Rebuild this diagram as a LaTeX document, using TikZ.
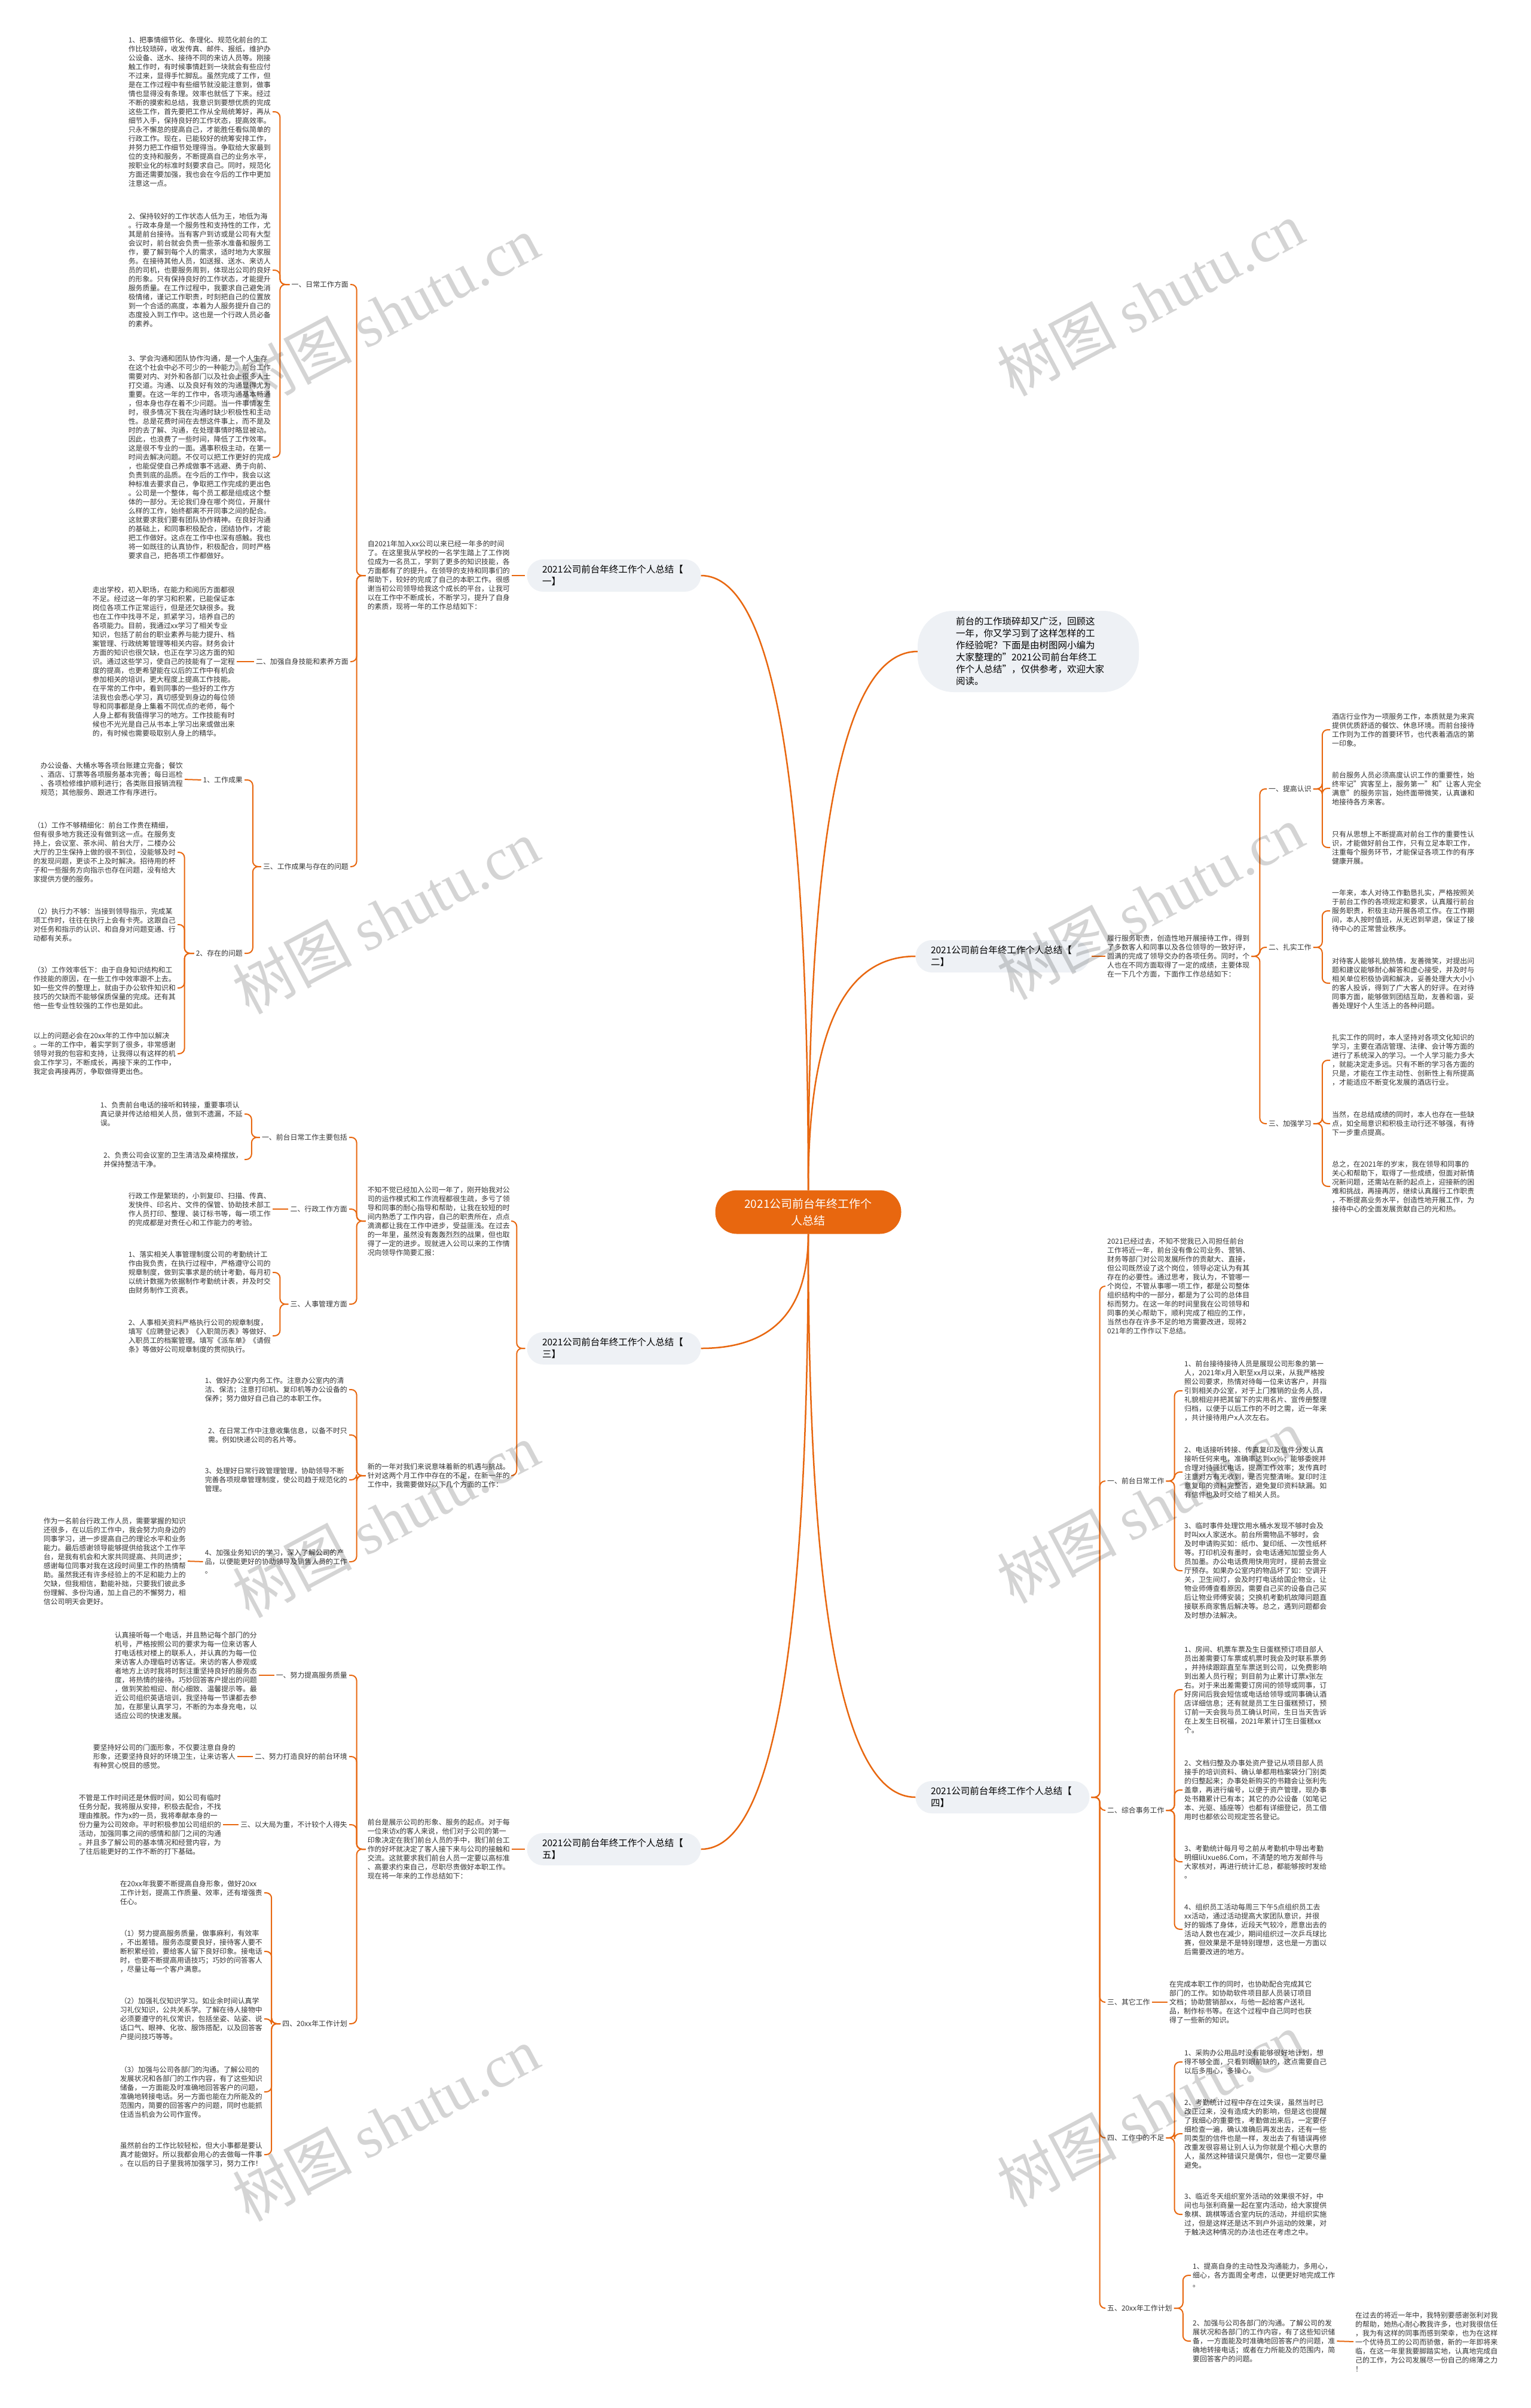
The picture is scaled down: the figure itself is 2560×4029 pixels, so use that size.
\documentclass[tikz,border=0pt]{standalone}
\usepackage{fontspec}
\setmainfont{Noto Sans CJK SC}
\newfontfamily\wmfont{Liberation Serif}
\definecolor{mmorange}{HTML}{E8670F}
\definecolor{pill}{HTML}{EEF1F5}
\definecolor{ink}{HTML}{333333}

\begin{document}
\begin{tikzpicture}[x=1pt, y=-1pt,
    link/.style={draw=mmorange, line width=2pt, rounded corners=9pt, shorten <=3pt, shorten >=3pt},
    curve/.style={draw=mmorange, line width=2.5pt},
    para/.style={align=left, inner sep=0pt, text=ink, font=\fontsize{11.9}{15}\selectfont},
    branch/.style={fill=pill, rounded corners=27pt, minimum width=291pt, minimum height=54pt,
        text width=240pt, inner sep=0pt, align=left, text=black, font=\fontsize{15.5}{20}\selectfont},
    bubble/.style={fill=pill, rounded corners=60pt, minimum width=370pt, minimum height=136pt,
        text width=242pt, inner sep=0pt, align=left, text=black, font=\fontsize{15.5}{20}\selectfont},
    root/.style={fill=mmorange, rounded corners=36pt, minimum width=311pt, minimum height=73pt,
        inner sep=0pt, align=center, text=white, font=\fontsize{19}{28}\selectfont},
    wm/.style={text=black, text opacity=0.17, rotate=28, inner sep=0pt, font=\fontsize{100}{100}\selectfont}]
    \useasboundingbox (0,0) rectangle (2560,4029);
    \fill[white] (0,0) rectangle (2560,4029);

    % 1. Root and the six branches
    \node[root] (c) at (1352,2028) {2021公司前台年终工作个\\人总结};
    \node[bubble] (ib) at (1720,1090) {前台的工作琐碎却又广泛，回顾这\\一年，你又学习到了这样怎样的工\\作经验呢？下面是由树图网小编为\\大家整理的"2021公司前台年终工\\作个人总结"，仅供参考，欢迎大家\\阅读。};
    \node[branch] (n1) at (1027,963) {2021公司前台年终工作个人总结【\\一】};
    \node[branch] (n2) at (1677,1600) {2021公司前台年终工作个人总结【\\二】};
    \node[branch] (n3) at (1027,2256) {2021公司前台年终工作个人总结【\\三】};
    \node[branch] (n4) at (1677,3007) {2021公司前台年终工作个人总结【\\四】};
    \node[branch] (n5) at (1027,3094) {2021公司前台年终工作个人总结【\\五】};
    \draw[curve] (c.north) .. controls +(0,-604) and +(-123,0) .. (ib.west);
    \draw[curve] (c.north) .. controls +(0,-689) and +(120,0) .. (n1.east);
    \draw[curve] (c.north) .. controls +(0,-263) and +(-121,0) .. (n2.west);
    \draw[curve] (c.south) .. controls +(0,128) and +(120,0) .. (n3.east);
    \draw[curve] (c.south) .. controls +(0,631) and +(-121,0) .. (n4.west);
    \draw[curve] (c.south) .. controls +(0,689) and +(120,0) .. (n5.east);

    % 2. Branch one
    \node[para, anchor=east] (t1) at (853,963) {自2021年加入xx公司以来已经一年多的时间\\了。在这里我从学校的一名学生踏上了工作岗\\位成为一名员工，学到了更多的知识技能，各\\方面都有了的提升。在领导的支持和同事们的\\帮助下，较好的完成了自己的本职工作。很感\\谢当初公司领导给我这个成长的平台，让我可\\以在工作中不断成长，不断学习，提升了自身\\的素质，现将一年的工作总结如下：};
    \node[para, anchor=east] (l11) at (583,476) {一、日常工作方面};
    \node[para, anchor=east] (l12) at (583,1107) {二、加强自身技能和素养方面};
    \node[para, anchor=east] (l13) at (583,1450) {三、工作成果与存在的问题};
    \node[para, anchor=east] (p111) at (453,187) {1、把事情细节化、条理化、规范化前台的工\\作比较琐碎，收发传真、邮件、报纸，维护办\\公设备、送水、接待不同的来访人员等。刚接\\触工作时，有时候事情赶到一块就会有些应付\\不过来，显得手忙脚乱。虽然完成了工作，但\\是在工作过程中有些细节就没能注意到，做事\\情也显得没有条理。效率也就低了下来。经过\\不断的摸索和总结，我意识到要想优质的完成\\这些工作，首先要把工作从全局统筹好，再从\\细节入手，保持良好的工作状态，提高效率。\\只永不懈怠的提高自己，才能胜任看似简单的\\行政工作。现在，已能较好的统筹安排工作，\\并努力把工作细节处理得当。争取给大家最到\\位的支持和服务，不断提高自己的业务水平，\\按职业化的标准时刻要求自己。同时，规范化\\方面还需要加强，我也会在今后的工作中更加\\注意这一点。};
    \node[para, anchor=east] (p112) at (453,452) {2、保持较好的工作状态人低为王，地低为海\\。行政本身是一个服务性和支持性的工作，尤\\其是前台接待。当有客户到访或是公司有大型\\会议时，前台就会负责一些茶水准备和服务工\\作，要了解到每个人的需求，适时地为大家服\\务。在接待其他人员，如送报、送水、来访人\\员的司机，也要服务周到，体现出公司的良好\\的形象。只有保持良好的工作状态，才能提升\\服务质量。在工作过程中，我要求自己避免消\\极情绪，谨记工作职责，时刻把自己的位置放\\到一个合适的高度，本着为人服务提升自己的\\态度投入到工作中。这也是一个行政人员必备\\的素养。};
    \node[para, anchor=east] (p113) at (453,765) {3、学会沟通和团队协作沟通，是一个人生存\\在这个社会中必不可少的一种能力。前台工作\\需要对内、对外和各部门以及社会上很多人士\\打交道。沟通、以及良好有效的沟通显得尤为\\重要。在这一年的工作中，各项沟通基本畅通\\，但本身也存在着不少问题。当一件事情发生\\时，很多情况下我在沟通时缺少积极性和主动\\性。总是花费时间在去想这件事上，而不是及\\时的去了解、沟通，在处理事情时略显被动。\\因此，也浪费了一些时间，降低了工作效率。\\这是很不专业的一面。遇事积极主动，在第一\\时间去解决问题。不仅可以把工作更好的完成\\，也能促使自己养成做事不逃避、勇于向前、\\负责到底的品质。在今后的工作中，我会以这\\种标准去要求自己，争取把工作完成的更出色\\。公司是一个整体，每个员工都是组成这个整\\体的一部分。无论我们身在哪个岗位，开展什\\么样的工作，始终都离不开同事之间的配合。\\这就要求我们要有团队协作精神。在良好沟通\\的基础上，和同事积极配合，团结协作，才能\\把工作做好。这点在工作中也深有感触。我也\\将一如既往的认真协作，积极配合，同时严格\\要求自己，把各项工作都做好。};
    \node[para, anchor=east] (p121) at (393,1107) {走出学校，初入职场，在能力和阅历方面都很\\不足。经过这一年的学习和积累，已能保证本\\岗位各项工作正常运行，但是还欠缺很多。我\\也在工作中找寻不足，抓紧学习，培养自己的\\各项能力。目前，我通过xx学习了相关专业\\知识，包括了前台的职业素养与能力提升、档\\案管理、行政统筹管理等相关内容。财务会计\\方面的知识也很欠缺，也正在学习这方面的知\\识。通过这些学习，使自己的技能有了一定程\\度的提高，也更希望能在以后的工作中有机会\\参加相关的培训，更大程度上提高工作技能。\\在平常的工作中，看到同事的一些好的工作方\\法我也会悉心学习，真切感受到身边的每位领\\导和同事都是身上集着不同优点的老师，每个\\人身上都有我值得学习的地方。工作技能有时\\候也不光光是自己从书本上学习出来或做出来\\的，有时候也需要吸取别人身上的精华。};
    \node[para, anchor=east] (l131) at (406,1305) {1、工作成果};
    \node[para, anchor=east] (l132) at (406,1595) {2、存在的问题};
    \node[para, anchor=east] (p131) at (306,1304) {办公设备、大桶水等各项台账建立完备；餐饮\\、酒店、订票等各项服务基本完善；每日巡检\\、各项检修维护顺利进行；各类账目报销流程\\规范；其他服务、跟进工作有序进行。};
    \node[para, anchor=east] (p1321) at (294,1426) {（1）工作不够精细化：前台工作贵在精细，\\但有很多地方我还没有做到这一点。在服务支\\持上，会议室、茶水间、前台大厅，二楼办公\\大厅的卫生保持上做的很不到位，没能够及时\\的发现问题，更谈不上及时解决。招待用的杯\\子和一些服务方向指示也存在问题，没有给大\\家提供方便的服务。};
    \node[para, anchor=east] (p1322) at (294,1547) {（2）执行力不够：当接到领导指示，完成某\\项工作时，往往在执行上会有卡壳。这跟自己\\对任务和指示的认识、和自身对问题变通、行\\动都有关系。};
    \node[para, anchor=east] (p1323) at (294,1653) {（3）工作效率低下：由于自身知识结构和工\\作技能的原因，在一些工作中效率跟不上去。\\如一些文件的整理上，就由于办公软件知识和\\技巧的欠缺而不能够保质保量的完成。还有其\\他一些专业性较强的工作也是如此。};
    \node[para, anchor=east] (p1324) at (294,1763) {以上的问题必会在20xx年的工作中加以解决\\。一年的工作中，着实学到了很多，非常感谢\\领导对我的包容和支持，让我得以有这样的机\\会工作学习，不断成长，再接下来的工作中，\\我定会再接再厉，争取做得更出色。};
    \draw[link] (n1.west) -- (t1.east);
    \foreach \k in {l11,l12,l13} \draw[link] (t1.west) -- ++(-18,0) |- (\k.east);
    \foreach \k in {p111,p112,p113} \draw[link] (l11.west) -- ++(-19,0) |- (\k.east);
    \draw[link] (l12.west) -- (p121.east);
    \foreach \k in {l131,l132} \draw[link] (l13.west) -- ++(-17,0) |- (\k.east);
    \draw[link] (l131.west) -- (p131.east);
    \foreach \k in {p1321,p1322,p1323,p1324} \draw[link] (l132.west) -- ++(-19,0) |- (\k.east);

    % 3. Branch three
    \node[para, anchor=east] (t31) at (853,2043) {不知不觉已经加入公司一年了，刚开始我对公\\司的运作模式和工作流程都很生疏，多亏了领\\导和同事的耐心指导和帮助，让我在较短的时\\间内熟悉了工作内容，自己的职责所在，点点\\滴滴都让我在工作中进步，受益匪浅。在过去\\的一年里，虽然没有轰轰烈烈的战果，但也取\\得了一定的进步。现就进入公司以来的工作情\\况向领导作简要汇报：};
    \node[para, anchor=east] (t32) at (853,2469) {新的一年对我们来说意味着新的机遇与挑战。\\针对这两个月工作中存在的不足，在新一年的\\工作中，我需要做好以下几个方面的工作：};
    \node[para, anchor=east] (l31) at (581,1903) {一、前台日常工作主要包括};
    \node[para, anchor=east] (l32) at (581,2023) {二、行政工作方面};
    \node[para, anchor=east] (l33) at (581,2182) {三、人事管理方面};
    \node[para, anchor=east] (p311) at (406,1864) {1、负责前台电话的接听和转接，重要事项认\\真记录并传达给相关人员，做到不遗漏，不延\\误。};
    \node[para, anchor=east] (p312) at (406,1940) {2、负责公司会议室的卫生清洁及桌椅摆放，\\并保持整洁干净。};
    \node[para, anchor=east] (p32) at (453,2023) {行政工作是繁琐的，小到复印、扫描、传真、\\发快件、印名片、文件的保管、协助技术部工\\作人员打印、整理、装订标书等，每一项工作\\的完成都是对责任心和工作能力的考验。};
    \node[para, anchor=east] (p331) at (453,2129) {1、落实相关人事管理制度公司的考勤统计工\\作由我负责，在执行过程中，严格遵守公司的\\规章制度，做到实事求是的统计考勤，每月初\\以统计数据为依据制作考勤统计表，并及时交\\由财务制作工资表。};
    \node[para, anchor=east] (p332) at (453,2235) {2、人事相关资料严格执行公司的规章制度，\\填写《应聘登记表》《入职简历表》等做好、\\入职员工的档案管理。填写《派车单》《请假\\条》等做好公司规章制度的贯彻执行。};
    \node[para, anchor=east] (q1) at (581,2325) {1、做好办公室内务工作。注意办公室内的清\\洁、保洁；注意打印机、复印机等办公设备的\\保养；努力做好自己自己的本职工作。};
    \node[para, anchor=east] (q2) at (581,2401) {2、在日常工作中注意收集信息，以备不时只\\需。例如快递公司的名片等。};
    \node[para, anchor=east] (q3) at (581,2476) {3、处理好日常行政管理管理，协助领导不断\\完善各项规章管理制度，使公司趋于规范化的\\管理。};
    \node[para, anchor=east] (q4) at (581,2613) {4、加强业务知识的学习，深入了解公司的产\\品，以便能更好的协助领导及销售人员的工作\\。};
    \node[para, anchor=east] (q41) at (311,2612) {作为一名前台行政工作人员，需要掌握的知识\\还很多，在以后的工作中，我会努力向身边的\\同事学习，进一步提高自己的理论水平和业务\\能力。最后感谢领导能够提供给我这个工作平\\台，是我有机会和大家共同提高、共同进步；\\感谢每位同事对我在这段时间里工作的热情帮\\助。虽然我还有许多经验上的不足和能力上的\\欠缺，但我相信，勤能补拙，只要我们彼此多\\份理解、多份沟通，加上自己的不懈努力，相\\信公司明天会更好。};
    \foreach \k in {t31,t32} \draw[link] (n3.west) -- ++(-17,0) |- (\k.east);
    \foreach \k in {l31,l32,l33} \draw[link] (t31.west) -- ++(-18,0) |- (\k.east);
    \foreach \k in {p311,p312} \draw[link] (l31.west) -- ++(-17,0) |- (\k.east);
    \draw[link] (l32.west) -- (p32.east);
    \foreach \k in {p331,p332} \draw[link] (l33.west) -- ++(-17,0) |- (\k.east);
    \foreach \k in {q1,q2,q3,q4} \draw[link] (t32.west) -- ++(-18,0) |- (\k.east);
    \draw[link] (q4.west) -- (q41.east);

    % 4. Branch five
    \node[para, anchor=east] (t5) at (853,3094) {前台是展示公司的形象、服务的起点。对于每\\一位来访x的客人来说，他们对于公司的第一\\印象决定在我们前台人员的手中，我们前台工\\作的好坏就决定了客人接下来与公司的接触和\\交流。这就要求我们前台人员一定要以高标准\\、高要求约束自己，尽职尽责做好本职工作。\\现在将一年来的工作总结如下：};
    \node[para, anchor=east] (l51) at (581,2803) {一、努力提高服务质量};
    \node[para, anchor=east] (l52) at (581,2939) {二、努力打造良好的前台环境};
    \node[para, anchor=east] (l53) at (581,3053) {三、以大局为重，不计较个人得失};
    \node[para, anchor=east] (l54) at (581,3386) {四、20xx年工作计划};
    \node[para, anchor=east] (p51) at (430,2803) {认真接听每一个电话，并且熟记每个部门的分\\机号，严格按照公司的要求为每一位来访客人\\打电话核对楼上的联系人，并认真的为每一位\\来访客人办理临时访客证。来访的客人参观或\\者地方上访时我将时刻注重坚持良好的服务态\\度，将热情的接待。巧妙回答客户提出的问题\\，做到笑脸相迎、耐心细致、温馨提示等。最\\近公司组织英语培训，我坚持每一节课都去参\\加，在那里认真学习，不断的为本身充电，以\\适应公司的快速发展。};
    \node[para, anchor=east] (p52) at (394,2939) {要坚持好公司的门面形象，不仅要注意自身的\\形象，还要坚持良好的环境卫生，让来访客人\\有种赏心悦目的感觉。};
    \node[para, anchor=east] (p53) at (370,3053) {不管是工作时间还是休假时间，如公司有临时\\任务分配，我将服从安排，积极去配合，不找\\理由推脱。作为x的一员，我将奉献本身的一\\份力量为公司效命。平时积极参加公司组织的\\活动，加强同事之间的感情和部门之间的沟通\\。并且多了解公司的基本情况和经营内容，为\\了往后能更好的工作不断的打下基础。};
    \node[para, anchor=east] (p541) at (439,3167) {在20xx年我要不断提高自身形象，做好20xx\\工作计划，提高工作质量、效率，还有增强责\\任心。};
    \node[para, anchor=east] (p542) at (439,3265) {（1）努力提高服务质量，做事麻利，有效率\\，不出差错。服务态度要良好，接待客人要不\\断积累经验，要给客人留下良好印象。接电话\\时，也要不断提高用语技巧；巧妙的问答客人\\，尽量让每一个客户满意。};
    \node[para, anchor=east] (p543) at (439,3378) {（2）加强礼仪知识学习。如业余时间认真学\\习礼仪知识，公共关系学。了解在待人接物中\\必须要遵守的礼仪常识，包括坐姿、站姿、说\\话口气、眼神、化妆、服饰搭配，以及回答客\\户提问技巧等等。};
    \node[para, anchor=east] (p544) at (439,3500) {（3）加强与公司各部门的沟通。了解公司的\\发展状况和各部门的工作内容，有了这些知识\\储备，一方面能及时准确地回答客户的问题，\\准确地转接电话。另一方面也能在力所能及的\\范围内，简要的回答客户的问题，同时也能抓\\住适当机会为公司作宣传。};
    \node[para, anchor=east] (p545) at (439,3605) {虽然前台的工作比较轻松，但大小事都是要认\\真才能做好。所以我都会用心的去做每一件事\\。在以后的日子里我将加强学习，努力工作！};
    \draw[link] (n5.west) -- (t5.east);
    \foreach \k in {l51,l52,l53,l54} \draw[link] (t5.west) -- ++(-18,0) |- (\k.east);
    \draw[link] (l51.west) -- (p51.east);
    \draw[link] (l52.west) -- (p52.east);
    \draw[link] (l53.west) -- (p53.east);
    \foreach \k in {p541,p542,p543,p544,p545} \draw[link] (l54.west) -- ++(-18,0) |- (\k.east);

    % 5. Branch two
    \node[para, anchor=west] (t2) at (1852,1600) {履行服务职责，创造性地开展接待工作，得到\\了多数客人和同事以及各位领导的一致好评，\\圆满的完成了领导交办的各项任务。同时，个\\人也在不同方面取得了一定的成绩，主要体现\\在一下几个方面，下面作工作总结如下：};
    \node[para, anchor=west] (r1) at (2122,1320) {一、提高认识};
    \node[para, anchor=west] (r2) at (2122,1585) {二、扎实工作};
    \node[para, anchor=west] (r3) at (2122,1880) {三、加强学习};
    \node[para, anchor=west] (a1) at (2228,1221) {酒店行业作为一项服务工作，本质就是为来宾\\提供优质舒适的餐饮、休息环境。而前台接待\\工作则为工作的首要环节，也代表着酒店的第\\一印象。};
    \node[para, anchor=west] (a2) at (2228,1319) {前台服务人员必须高度认识工作的重要性，始\\终牢记"宾客至上，服务第一"和"让客人完全\\满意"的服务宗旨，始终面带微笑，认真谦和\\地接待各方来客。};
    \node[para, anchor=west] (a3) at (2228,1418) {只有从思想上不断提高对前台工作的重要性认\\识，才能做好前台工作，只有立足本职工作，\\注重每个服务环节，才能保证各项工作的有序\\健康开展。};
    \node[para, anchor=west] (b1) at (2228,1524) {一年来，本人对待工作勤恳扎实，严格按照关\\于前台工作的各项规定和要求，认真履行前台\\服务职责，积极主动开展各项工作。在工作期\\间，本人按时值班，从无迟到早退，保证了接\\待中心的正常营业秩序。};
    \node[para, anchor=west] (b2) at (2228,1645) {对待客人能够礼貌热情，友善微笑，对提出问\\题和建议能够耐心解答和虚心接受，并及时与\\相关单位积极协调和解决，妥善处理大大小小\\的客人投诉，得到了广大客人的好评。在对待\\同事方面，能够做到团结互助，友善和谐，妥\\善处理好个人生活上的各种问题。};
    \node[para, anchor=west] (c1) at (2228,1774) {扎实工作的同时，本人坚持对各项文化知识的\\学习，主要在酒店管理、法律、会计等方面的\\进行了系统深入的学习。一个人学习能力多大\\，就能决定走多远。只有不断的学习各方面的\\只是，才能在工作主动性、创新性上有所提高\\，才能适应不断变化发展的酒店行业。};
    \node[para, anchor=west] (c2) at (2228,1880) {当然，在总结成绩的同时，本人也存在一些缺\\点，如全局意识和积极主动行还不够强，有待\\下一步重点提高。};
    \node[para, anchor=west] (c3) at (2228,1985) {总之，在2021年的岁末，我在领导和同事的\\关心和帮助下，取得了一些成绩，但面对新情\\况新问题，还需站在新的起点上，迎接新的困\\难和挑战，再接再厉，继续认真履行工作职责\\，不断提高业务水平，创造性地开展工作，为\\接待中心的全面发展贡献自己的光和热。};
    \draw[link] (n2.east) -- (t2.west);
    \foreach \k in {r1,r2,r3} \draw[link] (t2.east) -- ++(17,0) |- (\k.west);
    \foreach \k in {a1,a2,a3} \draw[link] (r1.east) -- ++(18,0) |- (\k.west);
    \foreach \k in {b1,b2} \draw[link] (r2.east) -- ++(18,0) |- (\k.west);
    \foreach \k in {c1,c2,c3} \draw[link] (r3.east) -- ++(18,0) |- (\k.west);

    % 6. Branch four
    \node[para, anchor=west] (t4) at (1852,2152) {2021已经过去，不知不觉我已入司担任前台\\工作将近一年，前台没有像公司业务、营销、\\财务等部门对公司发展所作的贡献大、直接，\\但公司既然设了这个岗位，领导必定认为有其\\存在的必要性。通过思考，我认为，不管哪一\\个岗位，不管从事哪一项工作，都是公司整体\\组织结构中的一部分，都是为了公司的总体目\\标而努力。在这一年的时间里我在公司领导和\\同事的关心帮助下，顺利完成了相应的工作，\\当然也存在许多不足的地方需要改进，现将2\\021年的工作作以下总结。};
    \node[para, anchor=west] (s1) at (1852,2478) {一、前台日常工作};
    \node[para, anchor=west] (s2) at (1852,3029) {二、综合事务工作};
    \node[para, anchor=west] (s3) at (1852,3350) {三、其它工作};
    \node[para, anchor=west] (s4) at (1852,3577) {四、工作中的不足};
    \node[para, anchor=west] (s5) at (1852,3862) {五、20xx年工作计划};
    \node[para, anchor=west] (s11) at (1981,2327) {1、前台接待接待人员是展现公司形象的第一\\人，2021年x月入职至xx月以来，从我严格按\\照公司要求，热情对待每一位来访客户，并指\\引到相关办公室，对于上门推销的业务人员，\\礼貌相迎并把其留下的实用名片、宣传册整理\\归档，以便于以后工作的不时之需，近一年来\\，共计接待用户x人次左右。};
    \node[para, anchor=west] (s12) at (1981,2463) {2、电话接听转接、传真复印及信件分发认真\\接听任何来电，准确率达到xx\%；能够委婉并\\合理对待骚扰电话，提高工作效率；发传真时\\注意对方有无收到，是否完整清晰。复印时注\\意复印的资料完整否，避免复印资料缺漏。如\\有信件也及时交给了相关人员。};
    \node[para, anchor=west] (s13) at (1981,2628) {3、临时事件处理饮用水桶水发现不够时会及\\时叫xx人家送水。前台所需物品不够时，会\\及时申请购买如：纸巾、复印纸、一次性纸杯\\等。打印机没有墨时，会电话通知加盟业务人\\员加墨。办公电话费用快用完时，提前去营业\\厅预存。如果办公室内的物品坏了如：空调开\\关，卫生间灯，会及时打电话给国企物业，让\\物业师傅查看原因，需要自己买的设备自己买\\后让物业师傅安装；交换机考勤机故障问题直\\接联系商家售后解决等。总之，遇到问题都会\\及时想办法解决。};
    \node[para, anchor=west] (s21) at (1981,2827) {1、房间、机票车票及生日蛋糕预订项目部人\\员出差需要订车票或机票时我会及时联系票务\\，并持续跟踪直至车票送到公司，以免费影响\\到出差人员行程；到目前为止累计订票x张左\\右。对于来出差需要订房间的领导或同事，订\\好房间后我会短信或电话给领导或同事确认酒\\店详细信息；还有就是员工生日蛋糕预订，预\\订前一天会我与员工确认时间，生日当天告诉\\在上发生日祝福，2021年累计订生日蛋糕xx\\个。};
    \node[para, anchor=west] (s22) at (1981,2995) {2、文档归整及办事处资产登记从项目部人员\\接手的培训资料、确认单都用档案袋分门别类\\的归整起来；办事处新购买的书籍会让张利先\\盖章，再进行编号，以便于资产管理，现办事\\处书籍累计已有本；其它的办公设备（如笔记\\本、光驱、插座等）也都有详细登记，员工借\\用时也都依公司规定签名登记。};
    \node[para, anchor=west] (s23) at (1981,3115) {3、考勤统计每月号之前从考勤机中导出考勤\\明细liUxue86.Com，不清楚的地方发邮件与\\大家核对，再进行统计汇总，都能够按时发给\\。};
    \node[para, anchor=west] (s24) at (1981,3228) {4、组织员工活动每周三下午5点组织员工去\\xx活动，通过活动提高大家团队意识，并很\\好的锻炼了身体，近段天气较冷，愿意出去的\\活动人数也在减少，期间组织过一次乒乓球比\\赛，但效果是不是特别理想，这也是一方面以\\后需要改进的地方。};
    \node[para, anchor=west] (s31) at (1956,3350) {在完成本职工作的同时，也协助配合完成其它\\部门的工作。如协助软件项目部人员装订项目\\文档；协助营销部xx，与他一起给客户送礼\\品，制作标书等。在这个过程中自己同时也获\\得了一些新的知识。};
    \node[para, anchor=west] (s41) at (1981,3450) {1、采购办公用品时没有能够很好地计划，想\\得不够全面，只看到眼前缺的，这点需要自己\\以后多用心，多操心。};
    \node[para, anchor=west] (s42) at (1981,3570) {2、考勤统计过程中存在过失误，虽然当时已\\改正过来，没有造成大的影响，但是这也提醒\\了我细心的重要性，考勤做出来后，一定要仔\\细检查一遍，确认准确后再发出去，还有一些\\同类型的信件也是一样，发出去了有错误再修\\改重发很容易让别人认为你就是个粗心大意的\\人，虽然这种错误只是偶尔，但也一定要尽量\\避免。};
    \node[para, anchor=west] (s43) at (1981,3705) {3、临近冬天组织室外活动的效果很不好，中\\间也与张利商量一起在室内活动，给大家提供\\象棋、跳棋等适合室内玩的活动，并组织实施\\过，但是这样还是达不到户外运动的效果，对\\于触决这种情况的办法也还在考虑之中。};
    \node[para, anchor=west] (s51) at (1995,3807) {1、提高自身的主动性及沟通能力，多用心，\\细心，各方面周全考虑，以便更好地完成工作\\。};
    \node[para, anchor=west] (s52) at (1995,3917) {2、加强与公司各部门的沟通。了解公司的发\\展状况和各部门的工作内容，有了这些知识储\\备，一方面能及时准确地回答客户的问题，准\\确地转接电话；或者在力所能及的范围内，简\\要回答客户的问题。};
    \node[para, anchor=west] (s521) at (2267,3918) {在过去的将近一年中，我特别要感谢张利对我\\的帮助，她热心耐心教我许多，也对我很信任\\，我为有这样的同事而感到荣幸，也为在这样\\一个优待员工的公司而骄傲，新的一年即将来\\临，在这一年里我要脚踏实地，认真地完成自\\己的工作，为公司发展尽一份自己的绵薄之力\\！};
    \foreach \k in {t4,s1,s2,s3,s4,s5} \draw[link] (n4.east) -- ++(17,0) |- (\k.west);
    \foreach \k in {s11,s12,s13} \draw[link] (s1.east) -- ++(17,0) |- (\k.west);
    \foreach \k in {s21,s22,s23,s24} \draw[link] (s2.east) -- ++(17,0) |- (\k.west);
    \draw[link] (s3.east) -- (s31.west);
    \foreach \k in {s41,s42,s43} \draw[link] (s4.east) -- ++(17,0) |- (\k.west);
    \foreach \k in {s51,s52} \draw[link] (s5.east) -- ++(18,0) |- (\k.west);
    \draw[link] (s52.east) -- (s521.west);

    % 7. Watermark
    \foreach \wx/\wy in {645/524, 645/1534, 645/2544, 645/3554, 1924/500, 1924/1510, 1924/2520, 1924/3530}
        \node[wm] at (\wx,\wy) {树图 {\wmfont shutu.cn}};
\end{tikzpicture}
\end{document}
